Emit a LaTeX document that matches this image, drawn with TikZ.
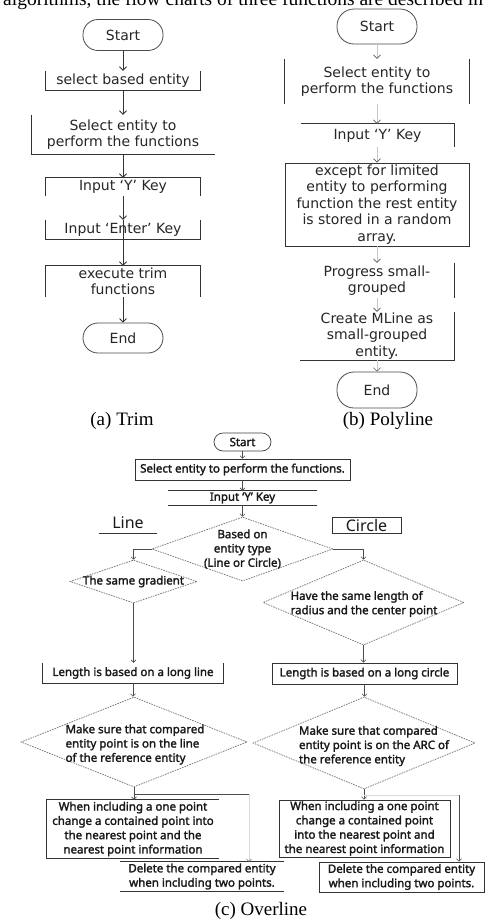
\documentclass[tikz,border=0pt]{standalone}
\usepackage{fontspec}
\setmainfont{Liberation Serif}
\newfontfamily\kfont{DejaVu Sans}
\newfontfamily\cfont{Noto Sans}[AutoFakeBold=2]
\usetikzlibrary{arrows.meta,shapes.geometric}
\begin{document}
\begin{tikzpicture}[x=1pt,y=-1pt,
  txa/.style={inner sep=0pt, align=center, text=black!85, font=\kfont\fontsize{14}{16.3}\selectfont},
  terma/.style={txa, draw=black!70, line width=0.8pt, rounded corners=15pt, minimum width=80pt},
  bord/.style={draw=black!80, line width=0.9pt},
  arra/.style={draw=black!80, line width=0.8pt, -{Straight Barb[length=3.5pt,width=7pt]}},
  arrb/.style={draw=black!22, line width=0.6pt, -{Straight Barb[length=3.5pt,width=7pt,color=black!65]}},
  txc/.style={inner sep=0pt, align=center, text=black!90, font=\cfont\bfseries\fontsize{11.5}{14.3}\selectfont},
  cbord/.style={draw=black!80, line width=0.8pt},
  cdia/.style={diamond, draw=black!55, dash pattern=on 1.6pt off 1pt, line width=0.7pt, inner sep=0pt},
  arrc/.style={draw=black!70, line width=0.6pt, -{Straight Barb[length=2.5pt,width=5pt]}},
  cline/.style={draw=black!70, line width=0.6pt},
  faint/.style={draw=black!15, line width=0.5pt},
  fainta/.style={draw=black!15, line width=0.5pt, -{Straight Barb[length=2.5pt,width=5pt,color=black!60]}},
  captxt/.style={inner sep=0pt, font=\fontsize{19}{22}\selectfont},
]
\useasboundingbox[fill=white] (0,0) rectangle (495,919);

% cut-off text line at the top (cut off in the reference too)
\node[inner sep=0pt, anchor=base west, font=\fontsize{19.5}{22}\selectfont] (topline) at (3,5) {algorithms, the flow charts of three functions are described in};

% ---------------- (a) Trim ----------------
\node[terma, minimum height=31pt] (startA) at (123,35) {Start};
\node[txa, minimum width=154pt, minimum height=19pt] (selA) at (123,80.5) {select based entity};
\draw[bord] (selA.north west) -- (selA.south west) -- (selA.south east) -- (selA.north east);
\node[txa, minimum width=183pt, minimum height=39pt] (entA) at (123,134.5) {Select entity to\\perform the functions};
\draw[bord] (entA.north west) -- (entA.south west) -- (entA.south east);
\node[txa, minimum width=154pt, minimum height=18pt] (yA) at (123,187) {Input ‘Y’ Key};
\draw[bord] (yA.south west) -- (yA.north west) -- (yA.north east) -- (yA.south east);
\node[txa, minimum width=154pt, minimum height=19pt] (enterA) at (123,229.5) {Input ‘Enter’ Key};
\draw[bord] (enterA.north west) -- (enterA.south west) -- (enterA.south east) -- (enterA.north east);
\node[txa, minimum width=154pt, minimum height=31pt] (execA) at (123,281.5) {execute trim\\functions};
\draw[bord] (execA.south west) -- (execA.north west) -- (execA.north east) -- (execA.south east);
\node[terma, minimum height=30pt] (endA) at (123,338) {End};

\draw[arra] (startA.south) -- (selA.north);
\draw[arra] (selA.south) -- (entA.north);
\draw[arra] (entA.south) -- (yA.north);
\draw[arra] (yA.south) -- (enterA.north);
\draw[arra] (enterA.north) -- (execA.north);
\draw[arra] (execA.south) -- (endA.north);

\node[captxt, anchor=base] (capA) at (122,425) {(a) Trim};

% ---------------- (b) Polyline ----------------
\node[terma, minimum height=35pt, rounded corners=17pt] (startB) at (377,26.5) {Start};
\node[txa, minimum width=184pt, minimum height=45pt] (entB) at (377,81.5) {Select entity to\\perform the functions};
\draw[bord] (entB.north west) -- (entB.south west);
\draw[bord] (entB.north east) -- (entB.south east);
\node[txa, minimum width=153pt, minimum height=23pt] (yB) at (377.5,135.5) {Input ‘Y’ Key};
\draw[bord] (yB.north west) -- (yB.north east) -- (yB.south east);
\node[txa, draw=black!80, line width=0.9pt, minimum width=184pt, minimum height=83pt, font=\kfont\fontsize{14}{16.6}\selectfont] (exB) at (377,204.5) {except for limited\\entity to performing\\function the rest entity\\is stored in a random\\array.};
\node[txa, minimum width=154pt, minimum height=35pt] (progB) at (377,280.5) {Progress small-\\grouped};
\draw[bord] (progB.north east) -- (progB.south east);
\node[txa, minimum width=154pt, minimum height=48pt] (mlB) at (377,336) {Create MLine as\\small-grouped\\entity.};
\draw[bord] (mlB.north east) -- (mlB.south east) -- (mlB.south west);
\node[terma, minimum height=36pt, rounded corners=17pt] (endB) at (377,390) {End};

\draw[arrb] (startB.south) -- (entB.north);
\draw[arrb] (entB.south) -- (entB.south |- yB.north);
\draw[arrb] (entB.south |- yB.south) -- (exB.north);
\draw[arrb] (exB.south) -- (progB.north);
\draw[arrb] (progB.south) -- (mlB.north);
\draw[arrb] (mlB.south) -- (endB.north);

\node[captxt, anchor=base] (capB) at (388,425) {(b) Polyline};

% ---------------- (c) Overline ----------------
\node[txc, draw=black!75, line width=0.7pt, rounded corners=9pt, minimum width=57pt, minimum height=18pt] (startC) at (242.5,442) {Start};
\node[txc, cbord, minimum width=215pt, minimum height=21pt] (selC) at (242.5,469.5) {Select entity to perform the functions.};
\node[txc, minimum width=149pt, minimum height=14pt] (yC) at (242.5,498) {Input ‘Y’ Key};
\draw[cbord] (yC.north west) -- (yC.north east);
\draw[cbord] (yC.south west) -- (yC.south east);

\node[txc, font=\cfont\fontsize{16}{16}\selectfont, minimum width=58pt, minimum height=20pt] (lineL) at (128,523) {Line};
\draw[cbord] (lineL.south west) -- (lineL.south east);
\node[txc, cbord, font=\cfont\fontsize{16}{16}\selectfont, minimum width=69pt, minimum height=16pt] (circL) at (366.5,525) {Circle};

\node[cdia, minimum width=181pt, minimum height=64pt] (mainD) at (242.5,549) {};
\node[txc] (mainT) at (242.5,549) {Based on\\entity type\\(Line or Circle)};
\node[cdia, minimum width=127pt, minimum height=43pt] (gradD) at (133.5,581.5) {};
\node[txc] (gradT) at (133.5,581.5) {The same gradient};
\node[cdia, minimum width=201pt, minimum height=85pt] (haveD) at (363.5,602.5) {};
\node[txc, align=left] (haveT) at (364,604) {Have the same length of\\radius and the center point};

\node[txc, minimum width=180pt, minimum height=20pt] (lenL) at (133,673) {Length is based on a long line};
\draw[cbord] (lenL.north west) -- (lenL.south west) -- (lenL.south east) -- (lenL.north east);
\node[txc, cbord, minimum width=185pt, minimum height=21pt] (lenC) at (364.5,673.5) {Length is based on a long circle};

\node[cdia, minimum width=226pt, minimum height=90pt] (mkL) at (134,742) {};
\node[txc, align=left] (mkLT) at (135,744.5) {Make sure that compared\\entity point is on the line\\of the reference entity};
\node[cdia, minimum width=222pt, minimum height=92pt] (mkR) at (364,743) {};
\node[txc, align=left] (mkRT) at (374,746) {Make sure that compared\\entity point is on the ARC of\\the reference entity};

\node[txc, minimum width=172pt, minimum height=58pt] (whL) at (133,829) {When including a one point\\change a contained point into\\the nearest point and the\\nearest point information};
\draw[cbord] (whL.north east) -- (whL.north west) -- (whL.south west) -- (whL.south east);
\node[txc, cbord, minimum width=171pt, minimum height=57pt] (whR) at (364.5,828.5) {When including a one point\\change a contained point\\into the nearest point and\\the nearest point information};

\node[txc, minimum width=164pt, minimum height=29pt] (delL) at (202,876.5) {Delete the compared entity\\when including two points.};
\draw[cbord] (delL.north west) -- (delL.north east);
\draw[cbord] (delL.south west) -- (delL.south east);
\node[txc, cbord, minimum width=165pt, minimum height=30pt] (delR) at (401.5,877) {Delete the compared entity\\when including two points.};

\draw[arrc] (startC.south) -- (selC.north);
\draw[arrc] (selC.south) -- (yC.north);
\draw[arrc] (yC.south) -- (mainD.north);
\draw[arrc] (mainD.west) -| (gradD.north);
\draw[arrc] (mainD.east) -| (haveD.north);
\draw[arrc] (gradD.south) -- (gradD.south |- lenL.north);
\draw[arrc] (haveD.south) -- (haveD.south |- lenC.north);
\draw[arrc] (lenL.south) -- (lenL.south |- mkL.north);
\draw[arrc] (lenC.south) -- (lenC.south |- mkR.north);
\draw[arrc] (mkL.south) -- (mkL.south |- whL.north);
\draw[arrc] (mkR.south) -- (mkR.south |- whR.north);
\coordinate (jL) at (249,794);
\draw[cline] (mkL.south |- jL) -- (jL);
\draw[fainta] (jL) -- (jL |- delL.north);
\coordinate (jR) at (459,795);
\draw[faint] (mkR.south |- jR) -- (jR);
\draw[arrc] (jR) -- (jR |- delR.north);

\node[captxt, anchor=base] (capC) at (261,915) {(c) Overline};
\end{tikzpicture}
\end{document}
